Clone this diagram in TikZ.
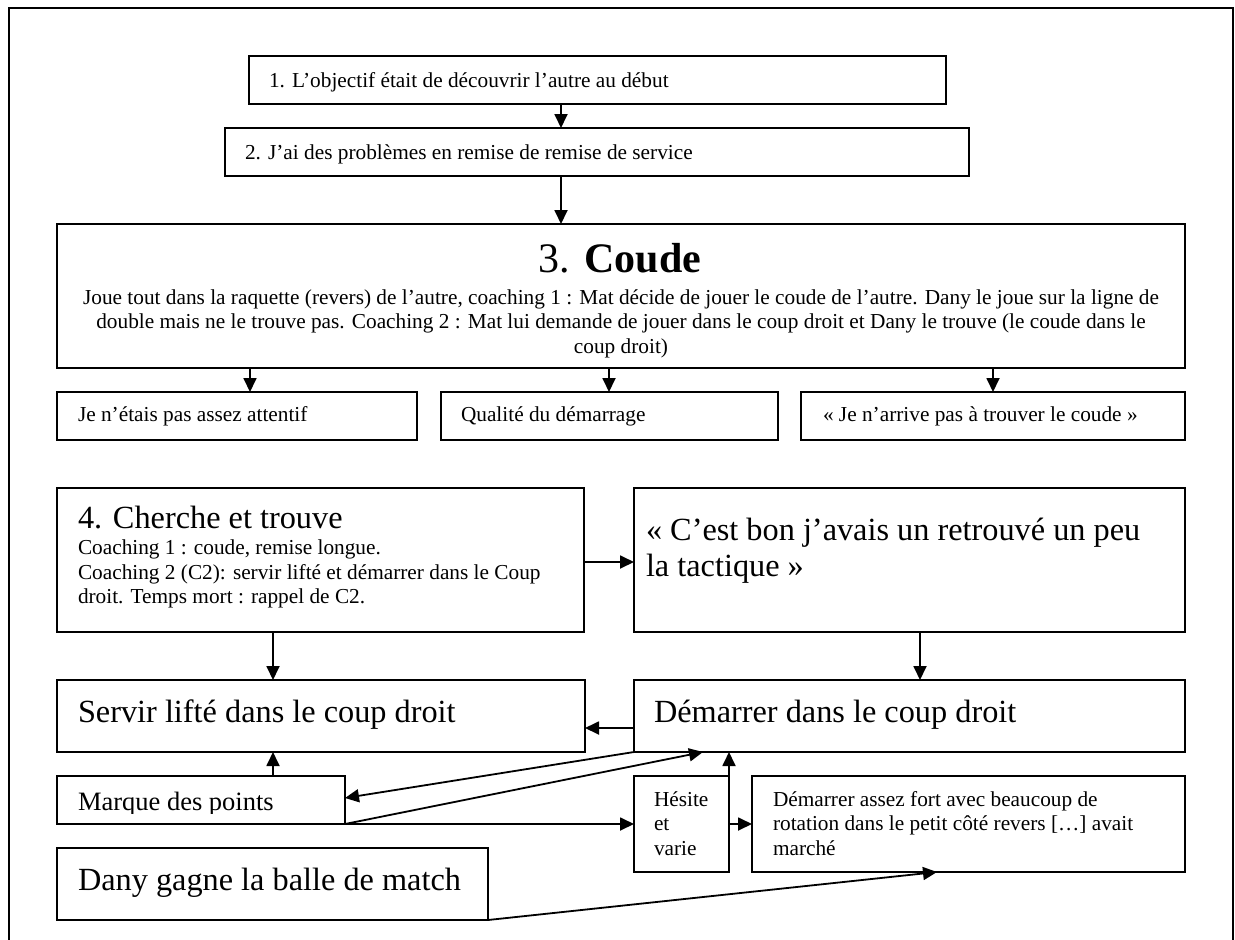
\documentclass[tikz,border=0pt]{standalone}
\usepackage{fontspec}
\setmainfont{Liberation Serif}
\usetikzlibrary{arrows.meta,fit}
\tikzset{
  box/.style={draw, line width=1.8pt, rectangle, inner sep=0pt, outer sep=0pt},
  link/.style={line width=1.8pt, -{Triangle[length=14pt,width=13pt]}},
  txt/.style={inner sep=0pt, outer sep=0pt, anchor=base west},
  fs/.style={font=\fontsize{21.3}{24.5}\selectfont},
  fm/.style={font=\fontsize{26.5}{30}\selectfont},
  fl/.style={font=\fontsize{32.3}{36.8}\selectfont},
  fxl/.style={font=\fontsize{42}{48}\selectfont},
}
\begin{document}
\begin{tikzpicture}[x=1pt,y=-1pt]
\useasboundingbox (0,0) rectangle (1235,940);
% page frame, open at the bottom
\draw[line width=1.8pt] (9,960) -- (9,8) -- (1233,8) -- (1233,960);

% boxes
\node[box, fit={(249,56) (946,104)}]   (b1) {};
\node[box, fit={(225,128) (969,176)}]  (b2) {};
\node[box, fit={(57,224) (1185,368)}]  (b3) {};
\node[box, fit={(57,392) (417,440)}]   (bA) {};
\node[box, fit={(441,392) (778,440)}]  (bB) {};
\node[box, fit={(801,392) (1185,440)}] (bC) {};
\node[box, fit={(57,488) (584,632)}]   (b4) {};
\node[box, fit={(634,488) (1185,632)}] (b5) {};
\node[box, fit={(57,680) (585,752)}]   (b6) {};
\node[box, fit={(634,680) (1185,752)}] (b7) {};
\node[box, fit={(57,776) (345,824)}]   (b8) {};
\node[box, fit={(634,776) (729,872)}]  (bH) {};
\node[box, fit={(752,776) (1185,872)}] (b10) {};
\node[box, fit={(57,848) (488,920)}]   (b11) {};

% texts
\node[txt,fs] (t1) at (269,87) {1. L’objectif était de découvrir l’autre au début};
\node[txt,fs] (t2) at (245,159) {2. J’ai des problèmes en remise de remise de service};
\node[txt,fxl,anchor=base] (t3) at (620,272) {3. \textbf{Coude}};
\node[txt,fs] (t3b) at (57,304) {\parbox[t]{1128pt}{\centering
  Joue tout dans la raquette (revers) de l’autre, coaching 1 : Mat décide de jouer le coude de l’autre. Dany le joue sur la ligne de\\
  double mais ne le trouve pas. Coaching 2 : Mat lui demande de jouer dans le coup droit et Dany le trouve (le coude dans le\\
  coup droit)}};
\node[txt,fs] (tA) at (78,421) {Je n’étais pas assez attentif};
\node[txt,fs] (tB) at (461,421) {Qualité du démarrage};
\node[txt,fs] (tC) at (823,421) {« Je n’arrive pas à trouver le coude »};
\node[txt,fl] (t4) at (78,528) {4. Cherche et trouve};
\node[txt,fs] (t4b) at (78,554.5) {\parbox[t]{500pt}{\raggedright
  Coaching 1 : coude, remise longue.\\
  Coaching 2 (C2): servir lifté et démarrer dans le Coup\\
  droit. Temps mort : rappel de C2.}};
\node[txt,fl] (t5) at (646,540) {\parbox[t]{530pt}{\raggedright
  « C’est bon j’avais un retrouvé un peu\\
  la tactique »}};
\node[txt,fl] (t6) at (78,722) {Servir lifté dans le coup droit};
\node[txt,fl] (t7) at (654,722) {Démarrer dans le coup droit};
\begin{scope}
  \clip (57,776) rectangle (345,813);
  \node[txt,fm] (t8) at (78,810) {Marque des points};
\end{scope}
\node[txt,fs] (tH) at (654,806) {\parbox[t]{70pt}{\raggedright Hésite\\ et\\ varie}};
\node[txt,fs] (t10) at (773,806) {\parbox[t]{410pt}{\raggedright
  Démarrer assez fort avec beaucoup de\\
  rotation dans le petit côté revers […] avait\\
  marché}};
\node[txt,fl] (t11) at (78,890) {Dany gagne la balle de match};

% connector positions
\coordinate (xa) at (561,0);
\coordinate (xb) at (250,0);
\coordinate (xc) at (609,0);
\coordinate (xd) at (993,0);
\coordinate (xe) at (273,0);
\coordinate (xf) at (920,0);
\coordinate (xg) at (703,0);
\coordinate (xh) at (937,0);
\coordinate (ya) at (0,562);
\coordinate (yb) at (0,728);
\coordinate (yc) at (0,798);

% connectors
\draw[link] (b1.south -| xa) -- (b2.north -| xa);
\draw[link] (b2.south -| xa) -- (b3.north -| xa);
\draw[link] (b3.south -| xb) -- (bA.north -| xb);
\draw[link] (b3.south -| xc) -- (bB.north -| xc);
\draw[link] (b3.south -| xd) -- (bC.north -| xd);
\draw[link] (b4.east |- ya) -- (b5.west |- ya);
\draw[link] (b4.south -| xe) -- (b6.north -| xe);
\draw[link] (b5.south -| xf) -- (b7.north -| xf);
\draw[link] (b7.west |- yb) -- (b6.east |- yb);
\draw[link] (b8.north -| xe) -- (b6.south -| xe);
\draw[link] (b7.south west) -- (b8.east |- yc);
\draw[link] (b8.south east) -- (b7.south -| xg);
\draw[link] (b8.south east) -- (bH.west |- b8.south);
\draw[link] (bH.north east) -- (b7.south -| bH.east);
\draw[link] (bH.east |- b8.south) -- (b10.west |- b8.south);
\draw[link] (b11.south east) -- (b10.south -| xh);
\end{tikzpicture}
\end{document}
